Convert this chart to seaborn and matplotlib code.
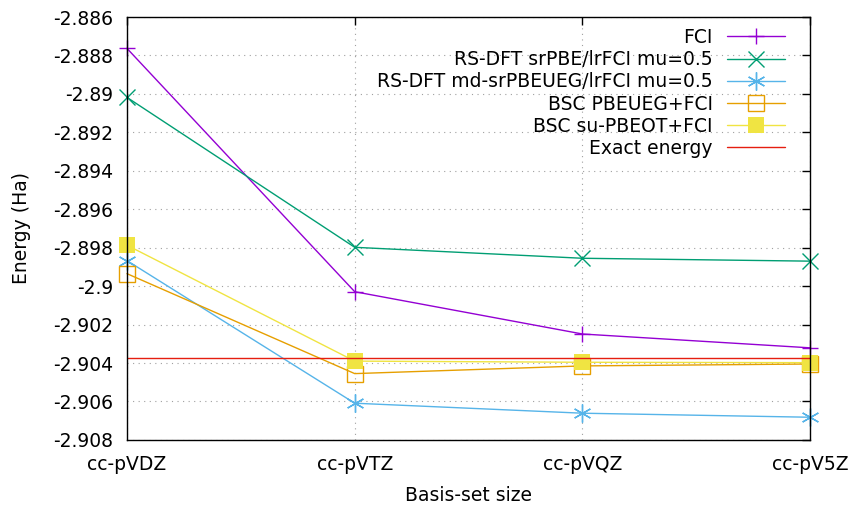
import matplotlib
matplotlib.use("Agg")
import matplotlib.pyplot as plt
import seaborn as sns
import pandas as pd
from matplotlib.ticker import FuncFormatter, MultipleLocator

basis = ["cc-pVDZ", "cc-pVTZ", "cc-pVQZ", "cc-pV5Z"]
fci = [-2.88763, -2.90029, -2.90249, -2.90321]
rs_pbe = [-2.89018, -2.89798, -2.89855, -2.89870]
rs_md = [-2.89867, -2.90609, -2.90661, -2.90682]
bsc_ueg = [-2.89935, -2.90455, -2.90415, -2.90405]
bsc_ot = [-2.89787, -2.90390, -2.90396, -2.90398]
exact = -2.90372

labels = ["FCI", "RS-DFT srPBE/lrFCI mu=0.5", "RS-DFT md-srPBEUEG/lrFCI mu=0.5",
          "BSC PBEUEG+FCI", "BSC su-PBEOT+FCI", "Exact energy"]
colors = ["#9400d3", "#009e73", "#56b4e9", "#e69f00", "#f0e442", "#e51e10"]

sns.set_theme(style="white")
plt.rcParams['font.family'] = ['DejaVu Sans']
FS = 13.5

fig = plt.figure(figsize=(8.52, 5.08), dpi=100)
ax = fig.add_axes([0.149, 0.134, 0.802, 0.8325])

xpos = list(range(len(basis)))
series = [fci, rs_pbe, rs_md, bsc_ueg, bsc_ot]
styles = [
    dict(marker="+", markersize=12, markeredgewidth=1.0),
    dict(marker="x", markersize=11, markeredgewidth=1.0),
    dict(marker=(6, 2, 0), markersize=13, markeredgewidth=1.0),
    dict(marker="s", markersize=11, markerfacecolor="none", markeredgewidth=1.0),
    dict(marker="s", markersize=11, markeredgewidth=0),
]
for vals, lab, col, st in zip(series, labels, colors, styles):
    df = pd.DataFrame({"x": xpos, "y": vals})
    sns.lineplot(data=df, x="x", y="y", ax=ax, color=col, label=lab,
                 linewidth=1.0, clip_on=False, markeredgecolor=col, **st)

ax.axhline(exact, color=colors[5], linewidth=1.0, label=labels[5])

ax.set_xlim(0, 3)
ax.set_ylim(-2.908, -2.886)
ax.set_xticks(xpos)
ax.set_xticklabels(basis)
ax.yaxis.set_major_locator(MultipleLocator(0.002))
ax.yaxis.set_major_formatter(FuncFormatter(lambda v, p: f"{round(v, 6):g}"))
ax.tick_params(axis="both", direction="in", length=6, width=1, top=True, right=True,
               labelsize=FS, colors="black")
ax.tick_params(axis="y", pad=10)
ax.tick_params(axis="x", pad=11)
for s in ax.spines.values():
    s.set_color("black")
    s.set_linewidth(1.0)
ax.grid(True, color="#a0a0a0", linestyle=(0, (1, 4)), linewidth=0.8)
ax.set_xlabel("Basis-set size", fontsize=FS, color="black")
ax.set_ylabel("Energy (Ha)", fontsize=FS, color="black")
ax.yaxis.set_label_coords(-0.140, 0.5)
ax.xaxis.set_label_coords(0.5, -0.108)

leg = ax.legend(loc="upper right", frameon=False, markerfirst=False,
                fontsize=FS, handlelength=3.1, handletextpad=0.75,
                labelspacing=0.17, borderpad=0, borderaxespad=0,
                bbox_to_anchor=(785 / 852, 1 - 28 / 508),
                bbox_transform=fig.transFigure)
for t in leg.get_texts():
    t.set_color("black")

fig.savefig("out.png", dpi=100)
